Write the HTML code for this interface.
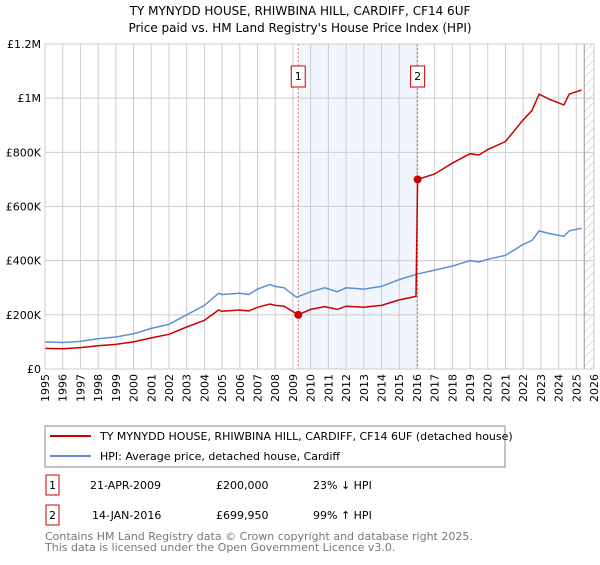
<!DOCTYPE html>
<html><head><meta charset="utf-8"><style>
body{margin:0;background:#fff;font-family:"Liberation Sans","DejaVu Sans",sans-serif;}
svg text{font-family:"DejaVu Sans","Liberation Sans",sans-serif;}
</style></head><body>
<svg width="600" height="560" xmlns="http://www.w3.org/2000/svg">
<defs><pattern id="hatch" width="6" height="6" patternUnits="userSpaceOnUse" patternTransform="rotate(45)"><line x1="0" y1="0" x2="0" y2="6" stroke="#bbb" stroke-width="1"/></pattern></defs>
<text x="300" y="15" text-anchor="middle" font-size="12" fill="#000">TY MYNYDD HOUSE, RHIWBINA HILL, CARDIFF, CF14 6UF</text>
<text x="300" y="32" text-anchor="middle" font-size="12" fill="#000">Price paid vs. HM Land Registry's House Price Index (HPI)</text>
<g id="plot"></g>
<rect x="45" y="426" width="460" height="41" fill="#fff" stroke="#888"/>
<line x1="50" y1="436" x2="91" y2="436" stroke="#cc0000" stroke-width="2"/>
<text x="100" y="440" font-size="11">TY MYNYDD HOUSE, RHIWBINA HILL, CARDIFF, CF14 6UF (detached house)</text>
<line x1="50" y1="456" x2="91" y2="456" stroke="#5b8fd4" stroke-width="2"/>
<text x="100" y="460" font-size="11">HPI: Average price, detached house, Cardiff</text>
<g>
<rect x="46" y="475" width="13" height="20" fill="#fff" stroke="#cc0000"/><text x="52.5" y="489" font-size="11" text-anchor="middle">1</text>
<text x="90" y="489" font-size="11">21-APR-2009</text><text x="216" y="489" font-size="11">£200,000</text><text x="313" y="489" font-size="11">23% ↓ HPI</text></g>
<g>
<rect x="46" y="505" width="13" height="20" fill="#fff" stroke="#cc0000"/><text x="52.5" y="519" font-size="11" text-anchor="middle">2</text>
<text x="92" y="519" font-size="11">14-JAN-2016</text><text x="216" y="519" font-size="11">£699,950</text><text x="313" y="519" font-size="11">99% ↑ HPI</text></g>
<text x="45" y="540" font-size="11" fill="#777">Contains HM Land Registry data © Crown copyright and database right 2025.</text>
<text x="45" y="551" font-size="11" fill="#777">This data is licensed under the Open Government Licence v3.0.</text>
</svg>
<script>
const hpiYears=[1995,1996,1997,1998,1999,2000,2001,2002,2003,2004,2004.8,2005,2006,2006.5,2007,2007.7,2008,2008.5,2009.2,2010,2010.8,2011.5,2012,2013,2013.5,2014,2015,2016,2017,2018,2019,2019.5,2020,2021,2022,2022.5,2022.9,2023.5,2024.3,2024.6,2025.3];
const hpiValues=[100,98,102,112,118,130,150,165,200,235,280,275,280,275,295,312,305,300,265,285,300,285,300,295,300,305,330,350,365,380,400,395,405,420,460,475,510,500,490,510,520];
const propYears=[1995,1996,1997,1998,1999,2000,2001,2002,2003,2004,2004.8,2005,2006,2006.5,2007,2007.7,2008,2008.5,2009.3,2010,2010.8,2011.5,2012,2013,2013.5,2014,2015,2015.95,2016.04,2017,2018,2019,2019.5,2020,2021,2022,2022.5,2022.9,2023.5,2024.3,2024.6,2025.3];
const propValues=[76,75,79,86,91,100,115,128,155,180,218,213,218,214,228,240,235,232,200,220,230,220,232,228,232,235,255,268,700,720,760,795,790,810,840,920,955,1015,995,975,1015,1030];
const saleYears=[2009.3,2016.04];
const saleValues=[200,699.95];
const saleLabels=["1","2"];
const yTicks=[0,200,400,600,800,1000,1200];
const yTickLabels=["£0","£200K","£400K","£600K","£800K","£1M","£1.2M"];
const xTicks=[1995,1996,1997,1998,1999,2000,2001,2002,2003,2004,2005,2006,2007,2008,2009,2010,2011,2012,2013,2014,2015,2016,2017,2018,2019,2020,2021,2022,2023,2024,2025,2026];
const L=45,R=594,T=44,B=369;
const x=v=>L+(v-1995)/31*(R-L);
const y=v=>B-v/1200*(B-T);
const NS="http://www.w3.org/2000/svg";
const g=document.getElementById('plot');
function mk(t,a){const e=document.createElementNS(NS,t);for(const k in a)e.setAttribute(k,a[k]);g.appendChild(e);return e;}
let e=mk('rect',{x:x(saleYears[0]),y:T,width:x(saleYears[1])-x(saleYears[0]),height:B-T,fill:'#eef3fc',opacity:0.8});


e=mk('rect',{x:x(2025.45),y:T,width:R-x(2025.45),height:B-T,fill:'url(#hatch)'});


yTicks.forEach((v,i)=>{
 e=mk('line',{x1:L,x2:R,y1:y(v),y2:y(v),stroke:'#ccc'});
 
 
 e=mk('text',{x:L-4,y:y(v)+4,'text-anchor':'end','font-size':11});e.textContent=yTickLabels[i];
 
 
});
xTicks.forEach(v=>{
 e=mk('line',{x1:x(v),x2:x(v),y1:T,y2:B,stroke:'#ccc'});
 
 
 e=mk('text',{x:0,y:0,'text-anchor':'end','font-size':11,transform:`translate(${x(v)+4},${B+5}) rotate(-90)`});e.textContent=v;
 
 
});
e=mk('line',{x1:x(2025.45),x2:x(2025.45),y1:T,y2:B,stroke:'#999'});


saleYears.forEach((s,i)=>{
 e=mk('line',{x1:x(s),x2:x(s),y1:T,y2:B,stroke:'#e05050','stroke-dasharray':'2,2','stroke-width':0.8});
 
 
 e=mk('rect',{x:x(s)-7,y:66,width:14,height:21,fill:'#fff',stroke:'#cc0000'});
 
 
 e=mk('text',{x:x(s),y:80,'text-anchor':'middle','font-size':11});e.textContent=saleLabels[i];
 
 
});
const pts=(xs,vs)=>xs.map((v,i)=>x(v).toFixed(1)+','+y(vs[i]).toFixed(1)).join(' ');
e=mk('polyline',{points:pts(hpiYears,hpiValues),fill:'none',stroke:'#5b8fd4','stroke-width':1.5});


e=mk('polyline',{points:pts(propYears,propValues),fill:'none',stroke:'#cc0000','stroke-width':1.5});


saleYears.forEach((s,i)=>{
 e=mk('circle',{cx:x(s),cy:y(saleValues[i]),r:4,fill:'#cc0000'});
 
 
});
e=mk('rect',{x:L,y:T,width:R-L,height:B-T,fill:'none',stroke:'#ccc'});


</script>
</body></html>
